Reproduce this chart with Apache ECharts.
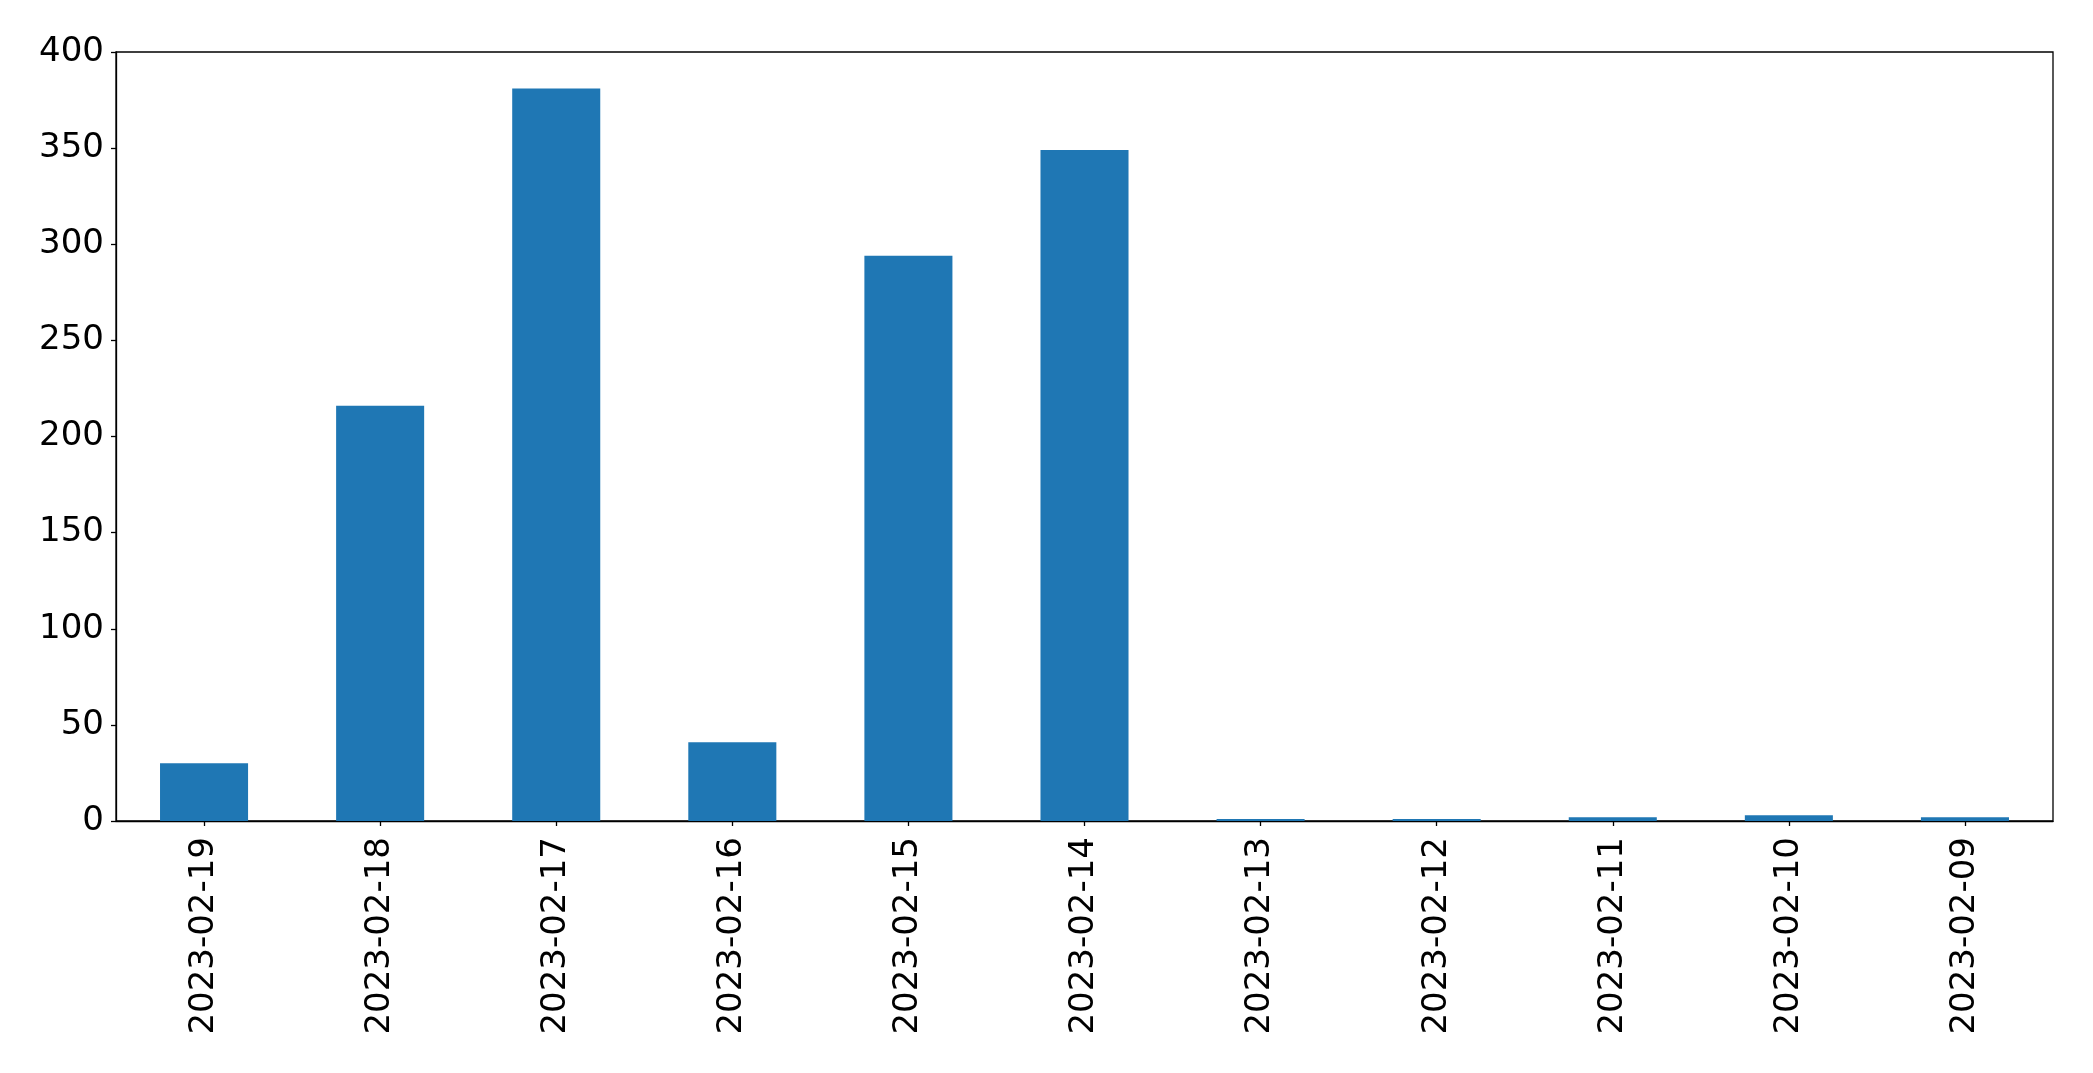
<!DOCTYPE html>
<html>
<head>
<meta charset="utf-8">
<script src="https://cdn.jsdelivr.net/npm/echarts@6/dist/echarts.min.js"></script>
<style>
html,body{margin:0;padding:0;background:#fff;}
#chart{width:2093px;height:1073px;}
</style>
</head>
<body>
<div id="chart"></div>
<script>
const categories = ['2023-02-19','2023-02-18','2023-02-17','2023-02-16','2023-02-15','2023-02-14','2023-02-13','2023-02-12','2023-02-11','2023-02-10','2023-02-09'];
const counts = [30, 216, 381, 41, 294, 349, 1, 1, 2, 3, 2];

const chart = echarts.init(document.getElementById('chart'), null, {renderer: 'canvas'});
const font = 'DejaVu Sans';
chart.setOption({
  animation: false,
  backgroundColor: '#ffffff',
  grid: {
    left: 116, right: 40, top: 52, bottom: 252,
    show: true, borderColor: '#000', borderWidth: 1.3, backgroundColor: 'transparent'
  },
  xAxis: {
    type: 'category',
    data: categories,
    boundaryGap: true,
    axisLine: {show: true, lineStyle: {color: '#000', width: 1.3}},
    axisTick: {show: true, alignWithLabel: true, length: 5, lineStyle: {color: '#000', width: 1.3}},
    axisLabel: {rotate: 90, margin: 16, color: '#000', fontFamily: font, fontSize: 34, interval: 0},
    splitLine: {show: false}
  },
  yAxis: {
    type: 'value',
    min: 0, max: 400, interval: 50,
    axisLine: {show: true, lineStyle: {color: '#000', width: 1.3}},
    axisTick: {show: true, length: 5, lineStyle: {color: '#000', width: 1.3}},
    axisLabel: {margin: 12, color: '#000', fontFamily: font, fontSize: 34, padding: [4, 0, 0, 0]},
    splitLine: {show: false}
  },
  series: [{
    type: 'bar',
    data: counts,
    barWidth: '50%',
    itemStyle: {color: '#1f77b4'}
  }]
});
</script>
</body>
</html>
